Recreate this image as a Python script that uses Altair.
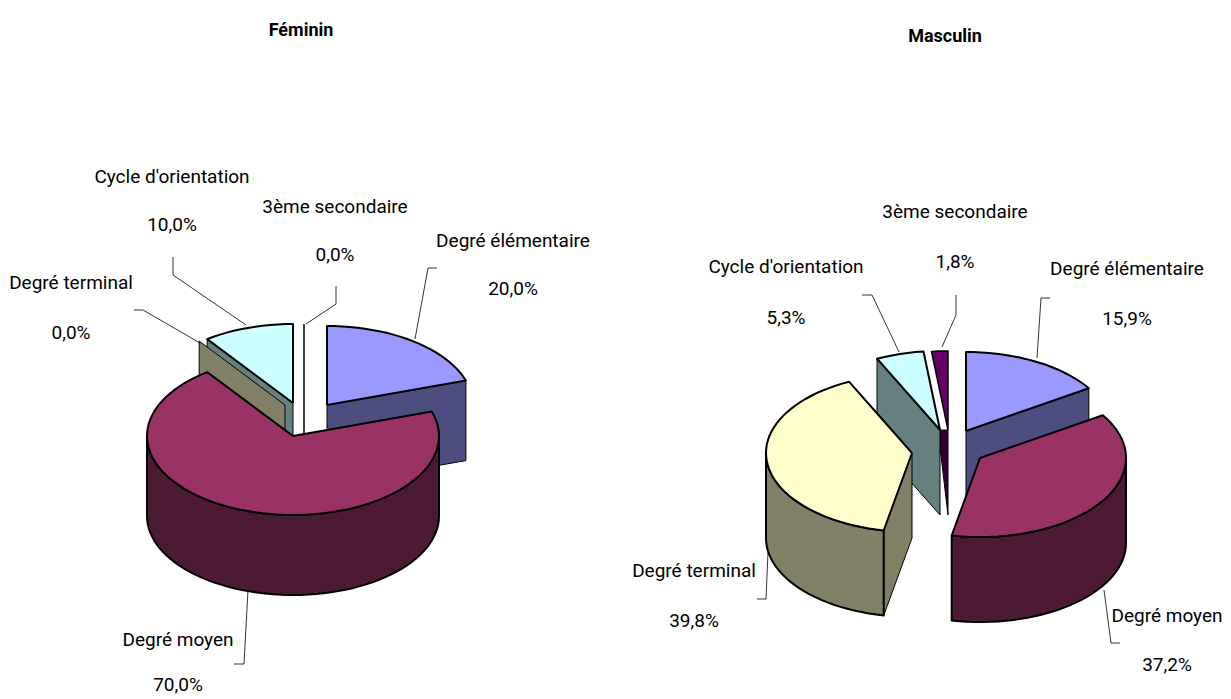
import math
import altair as alt
import pandas as pd

W, H, M = 1215, 689, 8
RX, RY = 146, 79
FONT = "Roboto"

# Data
series_labels = ["Degré élémentaire", "Degré moyen", "Degré terminal", "Cycle d'orientation", "3ème secondaire"]
feminin = [20.0, 70.0, 0.0, 10.0, 0.0]
masculin = [15.9, 37.2, 39.8, 5.3, 1.8]
top_colors = ["#9999FF", "#993366", "#FFFFCC", "#CCFFFF", "#660066"]
side_colors = ["#4D4D80", "#4D1A33", "#808066", "#668080", "#330033"]

# Layout of the exploded slices (page pixels)
fem_apex = [(327, 405), (293, 436), (285, 405), (293, 403), (304, 403)]
mas_apex = [(966, 431), (980, 458), (912, 453), (940, 430), (948, 430)]
fem_depth, mas_depth = 80, 85
fem_gap_line = 111

fem_text = [(513, 241, 289), (178, 640, 685), (71, 283, 333), (172, 177, 225), (335, 207, 255)]
mas_text = [(1127, 269, 319), (1167, 616, 665), (694, 571, 621), (786, 267, 318), (955, 212, 262)]
titles = [("Féminin", 301, 31), ("Masculin", 945, 37)]

leaders = [
    [(437, 268), (428, 268), (415, 339)],
    [(234, 664), (244, 664), (248, 590)],
    [(134, 310), (143, 310), (200, 343)],
    [(173, 257), (173, 275), (246, 325)],
    [(336, 286), (336, 304), (306, 324)],
    [(1050, 298), (1041, 298), (1037, 358)],
    [(1120, 643), (1111, 643), (1104, 590)],
    [(757, 599), (766, 599), (768, 552)],
    [(862, 295), (872, 295), (899, 352)],
    [(956, 295), (956, 315), (942, 347)],
]

x_scale = alt.Scale(domain=[M, M + W])
y_scale = alt.Scale(domain=[M + H, M])


def angles(shares):
    out, a = [], 0.0
    for s in shares:
        out.append((a, a + s * 3.6))
        a += s * 3.6
    return out


def pt(apex, a, dy=0):
    r = math.radians(a)
    return (apex[0] + RX * math.sin(r), apex[1] - RY * math.cos(r) + dy)


def arc(apex, a0, a1, dy=0):
    n = max(2, int(abs(a1 - a0) / 3) + 1)
    return [pt(apex, a0 + (a1 - a0) * i / (n - 1), dy) for i in range(n)]


def top(apex, a0, a1):
    return [apex] + arc(apex, a0, a1) + [apex]


def side(apex, a0, a1, d):
    p = arc(apex, a0, a1) + arc(apex, a1, a0, d)
    return p + [p[0]]


def wall(apex, a, d):
    o = pt(apex, a)
    p = [apex, o, (o[0], o[1] + d), (apex[0], apex[1] + d)]
    return p + [p[0]]


def frame(points):
    return pd.DataFrame(
        {"x": [round(p[0], 1) for p in points], "y": [round(p[1], 1) for p in points], "i": range(len(points))}
    )


def enc(chart):
    return chart.encode(
        x=alt.X("x:Q", scale=x_scale, axis=None),
        y=alt.Y("y:Q", scale=y_scale, axis=None),
        order="i:Q",
    )


def poly(points, fill, sw=1.0):
    return enc(alt.Chart(frame(points)).mark_line(fill=fill, stroke="black", strokeWidth=sw, strokeJoin="round"))


def path(points, sw=1.0):
    return enc(alt.Chart(frame(points)).mark_line(stroke="black", strokeWidth=sw))


layers = []

# Féminin
A = angles(feminin)
d = fem_depth
layers += [
    poly(wall(fem_apex[0], A[0][1], d), side_colors[0]),
    poly(top(fem_apex[0], *A[0]), top_colors[0], 2),
    path(wall(fem_apex[4], 360, fem_gap_line)[1:3], 1.5),
    poly(wall(fem_apex[3], A[3][0], d), side_colors[3]),
    poly(top(fem_apex[3], *A[3]), top_colors[3], 2),
    poly(wall(fem_apex[2], A[2][0], d), side_colors[2]),
    poly(side(fem_apex[1], 90, 270, d), side_colors[1], 2),
    poly(top(fem_apex[1], *A[1]), top_colors[1], 2),
]

# Masculin
A = angles(masculin)
d = mas_depth
a3 = mas_apex[4]
layers += [
    poly(wall(mas_apex[0], A[0][1], d), side_colors[0]),
    poly(top(mas_apex[0], *A[0]), top_colors[0], 2),
    poly(top(a3, *A[4]), top_colors[4], 1.5),
    poly([(a3[0] - 10, a3[1]), a3, (a3[0], a3[1] + d), (a3[0] - 10, a3[1])], side_colors[4]),
    poly(wall(mas_apex[3], A[3][0], d), side_colors[3]),
    poly(top(mas_apex[3], *A[3]), top_colors[3], 2),
    poly(wall(mas_apex[2], A[2][0], d), side_colors[2]),
    poly(side(mas_apex[2], A[2][0], 270, d), side_colors[2], 2),
    poly(top(mas_apex[2], *A[2]), top_colors[2], 2),
    poly(side(mas_apex[1], 90, A[1][1], d), side_colors[1], 2),
    poly(top(mas_apex[1], *A[1]), top_colors[1], 2),
]

for L in leaders:
    layers.append(path(L, 0.8))

rows = []
for shares, pos in ((feminin, fem_text), (masculin, mas_text)):
    for name, share, (x, y1, y2) in zip(series_labels, shares, pos):
        rows.append({"x": x, "y": y1, "t": name})
        rows.append({"x": x, "y": y2, "t": f"{share:.1f}%".replace(".", ",")})
labels = pd.DataFrame(rows)
layers.append(
    alt.Chart(labels)
    .mark_text(font=FONT, fontSize=19, color="black", align="center", baseline="middle")
    .encode(x=alt.X("x:Q", scale=x_scale, axis=None), y=alt.Y("y:Q", scale=y_scale, axis=None), text="t:N")
)
title_df = pd.DataFrame(titles, columns=["t", "x", "y"])
layers.append(
    alt.Chart(title_df)
    .mark_text(font=FONT, fontSize=18, fontWeight="bold", color="black", align="center", baseline="middle")
    .encode(x=alt.X("x:Q", scale=x_scale, axis=None), y=alt.Y("y:Q", scale=y_scale, axis=None), text="t:N")
)

chart = (
    alt.layer(*layers)
    .properties(width=W, height=H, padding=0, background="white",
                autosize=alt.AutoSizeParams(type="none", contains="padding"))
    .configure_view(strokeWidth=0)
)
chart.save("out.html", embed_options={"renderer": "svg", "actions": False})
